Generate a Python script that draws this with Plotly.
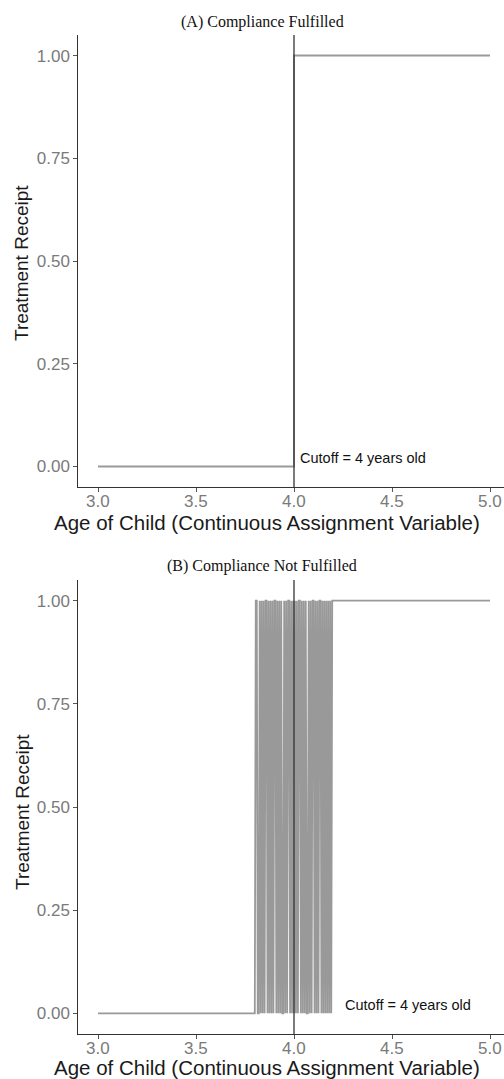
import plotly.graph_objects as go

# Panel A data: sharp compliance
x_a = [3.0, 4.0, 4.0, 5.0]
y_a = [0, 0, 1, 1]

# Panel B data: fuzzy compliance around the cutoff
x_b = [3.0,
       3.800, 3.805, 3.810, 3.815, 3.820, 3.825, 3.830, 3.835, 3.840, 3.845,
       3.850, 3.855, 3.860, 3.865, 3.870, 3.875, 3.880, 3.885, 3.890, 3.895,
       3.900, 3.905, 3.910, 3.915, 3.920, 3.925, 3.930, 3.935, 3.940, 3.945,
       3.950, 3.955, 3.960, 3.965, 3.970, 3.975, 3.980, 3.985, 3.990, 3.995,
       4.000, 4.005, 4.010, 4.015, 4.020, 4.025, 4.030, 4.035, 4.040, 4.045,
       4.050, 4.055, 4.060, 4.065, 4.070, 4.075, 4.080, 4.085, 4.090, 4.095,
       4.100, 4.105, 4.110, 4.115, 4.120, 4.125, 4.130, 4.135, 4.140, 4.145,
       4.150, 4.155, 4.160, 4.165, 4.170, 4.175, 4.180, 4.185, 4.190, 4.195,
       4.200,
       5.0]
y_b = [0,
       0, 1, 1, 0, 0, 1, 0, 1, 0, 1,
       0, 1, 1, 0, 1, 0, 1, 0, 1, 0,
       1, 1, 0, 1, 0, 1, 0, 1, 0, 0,
       1, 0, 1, 0, 1, 1, 0, 1, 0, 1,
       0, 1, 0, 1, 0, 1, 1, 0, 1, 0,
       1, 0, 1, 0, 0, 1, 0, 1, 0, 1,
       1, 0, 1, 0, 1, 0, 1, 1, 0, 1,
       0, 1, 0, 1, 0, 1, 0, 1, 0, 1,
       1,
       1]

cutoff = 4.0
x_ticks = [3.0, 3.5, 4.0, 4.5, 5.0]
x_tick_text = ["3.0", "3.5", "4.0", "4.5", "5.0"]
y_ticks = [0.0, 0.25, 0.50, 0.75, 1.00]
y_tick_text = ["0.00", "0.25", "0.50", "0.75", "1.00"]
titles = ["(A) Compliance Fulfilled", "(B) Compliance Not Fulfilled"]
x_title = "Age of Child (Continuous Assignment Variable)"
y_title = "Treatment Receipt"
note = "Cutoff = 4 years old"

W, H = 504, 1079
fig = go.Figure()

line_col = "#999999"
fig.add_trace(go.Scatter(x=x_a, y=y_a, mode="lines",
                         line=dict(color=line_col, width=2), xaxis="x", yaxis="y",
                         showlegend=False, hoverinfo="skip"))
fig.add_trace(go.Scatter(x=x_b, y=y_b, mode="lines",
                         line=dict(color=line_col, width=1.8), xaxis="x2", yaxis="y2",
                         showlegend=False, hoverinfo="skip"))

x_dom = [78.4 / W, 1.0]
x_rng = [2.9, 2.9 + (W - 78.4) / 196.0]
dom_a = [1 - 487 / H, 1 - 35 / H]
dom_b = [1 - 1034 / H, 1 - 580 / H]

sans = "Liberation Sans, Arial"
tick_font = dict(family=sans, size=17, color="#7a7a7a")

def xaxis(anchor):
    return dict(domain=x_dom, range=x_rng, anchor=anchor, tickvals=x_ticks,
                showticklabels=False, showgrid=False, zeroline=False, showline=True,
                linecolor="#333333", linewidth=1.2, ticks="outside", ticklen=4,
                tickcolor="#555555", tickwidth=1)

def yaxis(anchor, dom):
    return dict(domain=dom, range=[-0.05, 1.05], anchor=anchor, tickvals=y_ticks,
                ticktext=y_tick_text, showgrid=False, zeroline=False, showline=True,
                linecolor="#333333", linewidth=1.2, ticks="outside", ticklen=4,
                tickcolor="#555555", tickwidth=1, tickfont=tick_font)

fig.update_layout(
    width=W, height=H, margin=dict(l=0, r=0, t=0, b=0),
    paper_bgcolor="white", plot_bgcolor="white",
    xaxis=xaxis("y"), yaxis=yaxis("x", dom_a),
    xaxis2=xaxis("y2"), yaxis2=yaxis("x2", dom_b),
)

# x tick labels placed close to the axis, as in the reference
for xr, yr in [("x", "y"), ("x2", "y2")]:
    for v, t in zip(x_ticks, x_tick_text):
        fig.add_annotation(x=v, y=0, xref=xr, yref=yr + " domain", text=t,
                           showarrow=False, xanchor="center", yanchor="middle",
                           yshift=-14, font=tick_font)

for xr, yr in [("x", "y"), ("x2", "y2")]:
    fig.add_shape(type="line", xref=xr, yref=yr + " domain", x0=cutoff, x1=cutoff,
                  y0=0, y1=1, line=dict(color="#333333", width=1.3))

note_font = dict(family=sans, size=14.5, color="#111111")
fig.add_annotation(x=4.02, y=0.02, xref="x", yref="y", text=note, showarrow=False,
                   xanchor="left", yanchor="middle", font=note_font)
fig.add_annotation(x=4.25, y=0.02, xref="x2", yref="y2", text=note, showarrow=False,
                   xanchor="left", yanchor="middle", font=note_font)

# panel titles
for t, ypx in zip(titles, [22, 566]):
    fig.add_annotation(x=262 / W, y=1 - ypx / H, xref="paper", yref="paper", text=t,
                       showarrow=False, xanchor="center", yanchor="middle",
                       font=dict(family="Liberation Serif, Times New Roman", size=16,
                                 color="#111111"))

# axis titles
for ypx in [522, 1067]:
    fig.add_annotation(x=267 / W, y=1 - ypx / H, xref="paper", yref="paper",
                       text=x_title, showarrow=False, xanchor="center", yanchor="middle",
                       font=dict(family=sans, size=20.5, color="#1a1a1a"))
for ypx in [263, 812]:
    fig.add_annotation(x=22 / W, y=1 - ypx / H, xref="paper", yref="paper",
                       text=y_title, showarrow=False, xanchor="center", yanchor="middle",
                       textangle=-90, font=dict(family=sans, size=19, color="#1a1a1a"))

fig.write_html("out.html")
